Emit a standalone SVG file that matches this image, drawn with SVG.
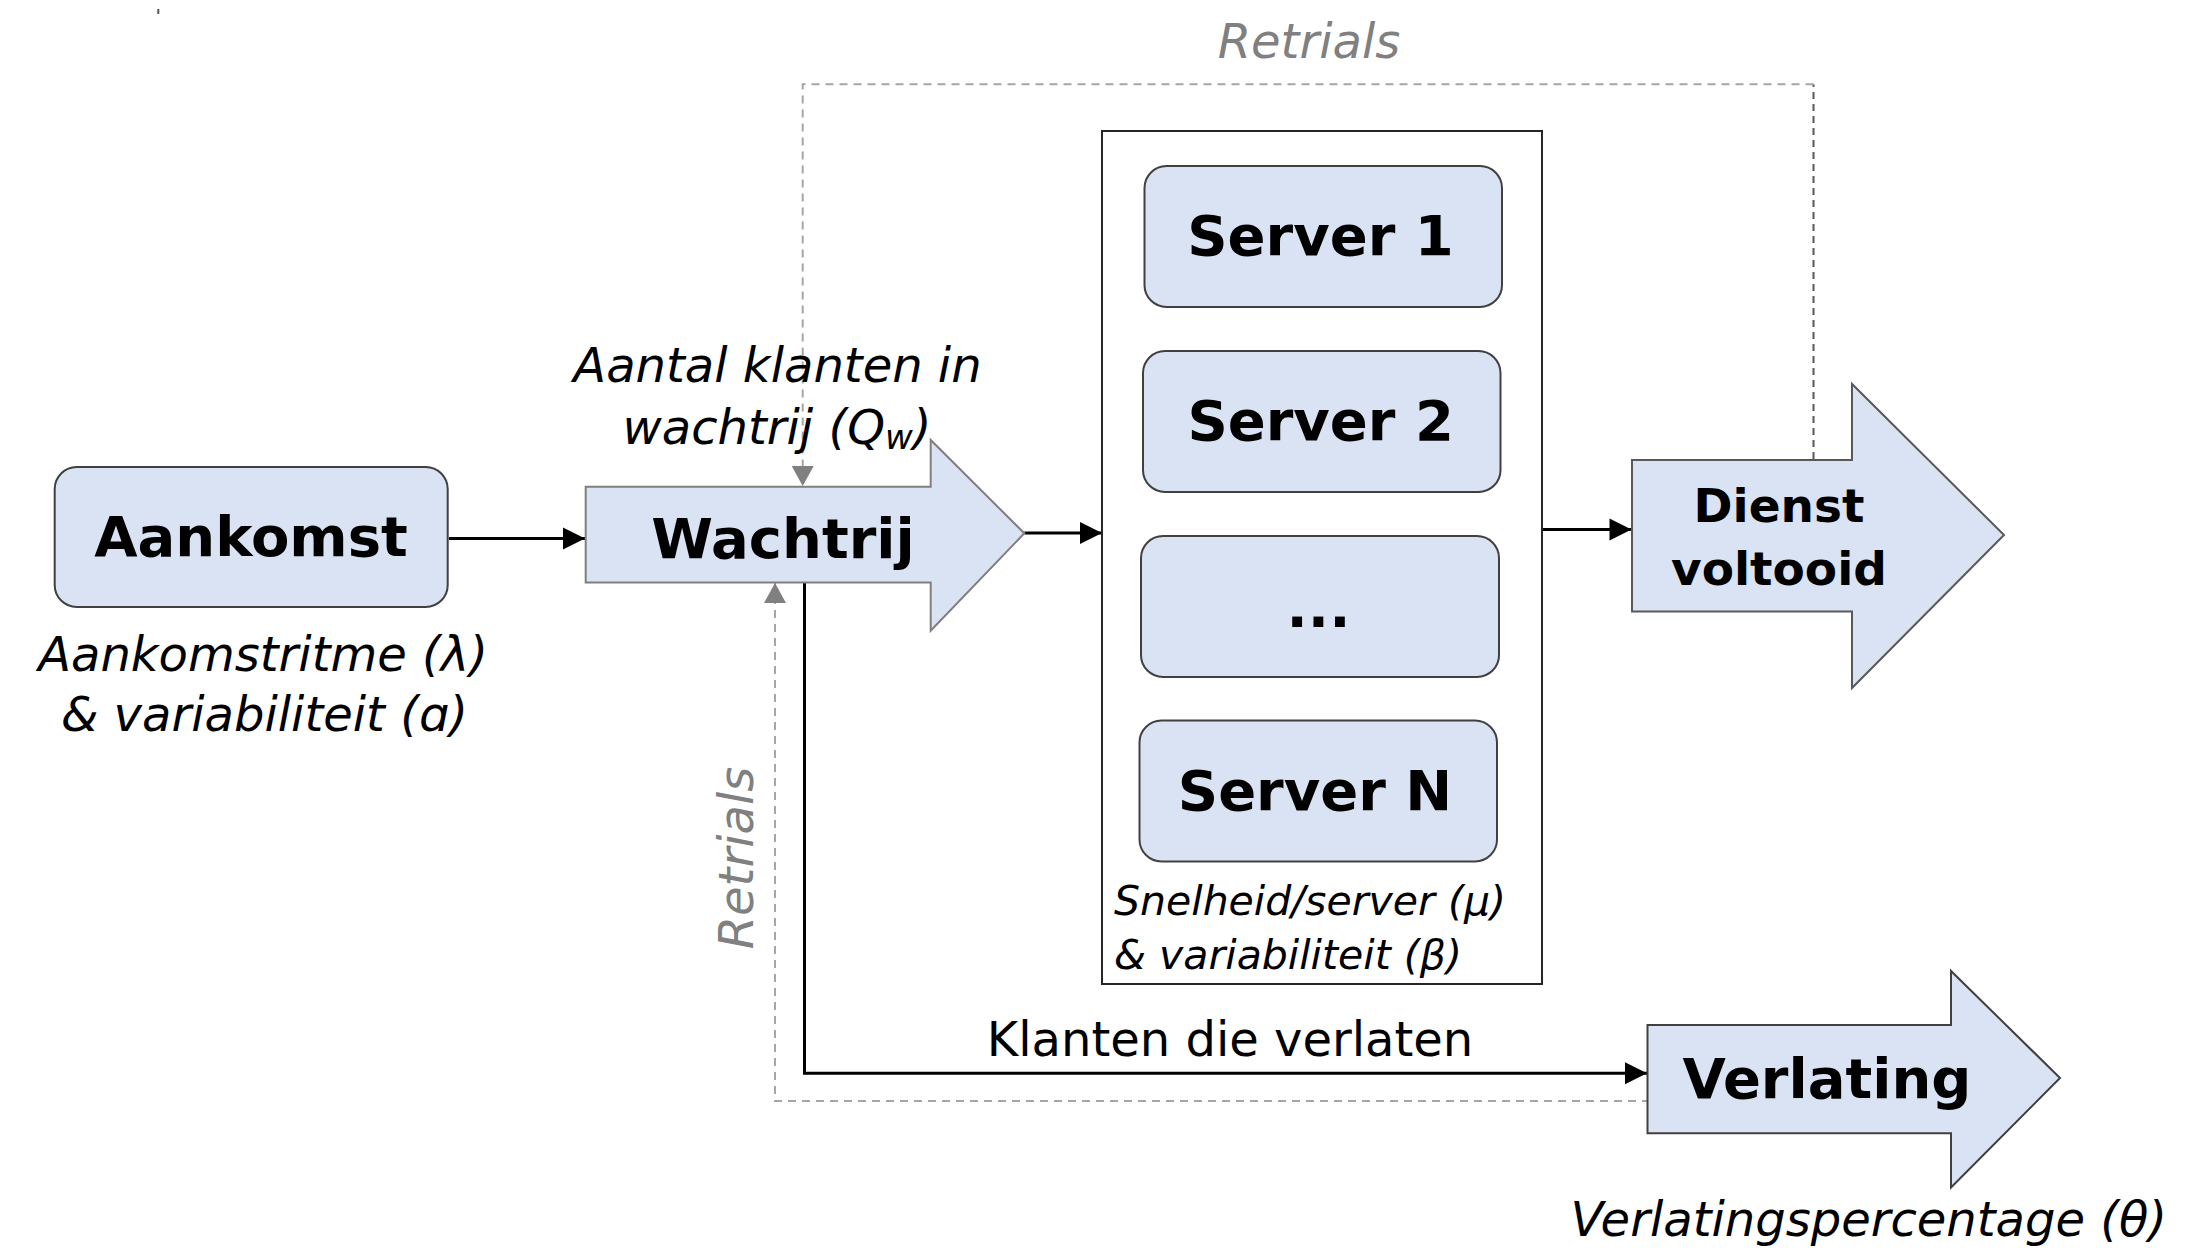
<svg xmlns="http://www.w3.org/2000/svg" width="2193" height="1252" viewBox="0 0 2193 1252">
  <style>
    text { font-family: "DejaVu Sans", Verdana, sans-serif; fill: #000; }
    .title { font-weight: bold; font-size: 56px; text-anchor: middle; }
    .title2 { font-weight: bold; font-size: 47px; text-anchor: middle; }
    .note { font-style: italic; font-size: 48px; }
    .note-s { font-style: italic; font-size: 41px; }
    .gray { fill: #808080; }
    .box { fill: #DAE3F3; stroke: #404040; stroke-width: 2; }
    .flow { fill: none; stroke: #000; stroke-width: 3; }
    .retry { fill: none; stroke: #a6a6a6; stroke-width: 2; stroke-dasharray: 8 6; }
    .retry-dark { fill: none; stroke: #595959; stroke-width: 2; stroke-dasharray: 7 5; }
  </style>
  <defs>
    <marker id="head" markerUnits="userSpaceOnUse" markerWidth="24" markerHeight="24" viewBox="0 0 24 24" refX="23" refY="12" orient="auto">
      <path d="M1,1 L23,12 L1,23 Z" fill="#000"/>
    </marker>
    <marker id="head-gray" markerUnits="userSpaceOnUse" markerWidth="22" markerHeight="24" viewBox="0 0 22 24" refX="21" refY="12" orient="auto">
      <path d="M1,1 L21,12 L1,23 Z" fill="#808080"/>
    </marker>
  </defs>

  <!-- small mark top left -->
  <line x1="158.3" y1="9" x2="158.3" y2="14" stroke="#555" stroke-width="2"/>

  <!-- connectors -->
  <g id="connectors">
    <line class="flow" x1="449" y1="538.5" x2="585" y2="538.5" marker-end="url(#head)"/>
    <line class="flow" x1="1024.3" y1="533" x2="1102" y2="533" marker-end="url(#head)"/>
    <line class="flow" x1="1542" y1="529.5" x2="1631.5" y2="529.5" marker-end="url(#head)"/>
    <path class="flow" d="M804.5,582.5 V1073.3 H1647" marker-end="url(#head)"/>
    <path class="retry-dark" d="M1813.5,459 V84.3"/>
    <path class="retry" d="M1813.5,84.3 H802.7 V486" marker-end="url(#head-gray)"/>
    <path class="retry" d="M1650,1101 H775 V583" marker-end="url(#head-gray)"/>
    <text class="note gray" x="1309" y="58" text-anchor="middle">Retrials</text>
    <text class="note gray" transform="translate(753,858) rotate(-90)" text-anchor="middle">Retrials</text>
    <text x="1230" y="1056" font-size="48" text-anchor="middle">Klanten die verlaten</text>
  </g>

  <!-- arrival -->
  <g id="aankomst">
    <rect class="box" x="54.7" y="467" width="393" height="140" rx="22"/>
    <text class="title" x="251" y="556">Aankomst</text>
    <text class="note" x="263" y="671" text-anchor="middle">Aankomstritme (λ)</text>
    <text class="note" x="264.5" y="731" text-anchor="middle">&amp; variabiliteit (ɑ)</text>
  </g>

  <!-- queue -->
  <g id="wachtrij">
    <path d="M585.7,486.7 H930.7 V440 L1024.3,533.3 L930.7,630.7 V582.5 H585.7 Z" fill="#DAE3F3" stroke="#7f7f7f" stroke-width="2"/>
    <text class="title" x="783" y="558">Wachtrij</text>
    <text class="note" x="777.5" y="382" text-anchor="middle">Aantal klanten in</text>
    <text class="note" x="777" y="444" text-anchor="middle">wachtrij (Q<tspan font-size="34" dy="5">w</tspan><tspan dy="-5">)</tspan></text>
  </g>

  <!-- servers -->
  <g id="servers">
    <rect x="1102" y="131" width="440" height="853" fill="none" stroke="#262626" stroke-width="2"/>
    <text class="note-s" x="1114" y="915">Snelheid/server (μ)</text>
    <text class="note-s" x="1114" y="968.6">&amp; variabiliteit (β)</text>
  </g>
  <g id="server-1">
    <rect class="box" x="1144.5" y="166" width="357.5" height="141" rx="22"/>
    <text class="title" x="1320.5" y="254.5">Server 1</text>
  </g>
  <g id="server-2">
    <rect class="box" x="1143" y="351" width="357.5" height="141" rx="22"/>
    <text class="title" x="1320.7" y="439.7">Server 2</text>
  </g>
  <g id="server-dots">
    <rect class="box" x="1141" y="536" width="358" height="141" rx="22"/>
    <text class="title" x="1318.5" y="627">...</text>
  </g>
  <g id="server-n">
    <rect class="box" x="1139.5" y="720.5" width="357.5" height="141" rx="22"/>
    <text class="title" x="1315" y="809.7">Server N</text>
  </g>

  <!-- service completed -->
  <g id="dienst-voltooid">
    <path d="M1632,460 H1852 V384 L2004,535 L1852,688 V611.5 H1632 Z" fill="#DAE3F3" stroke="#595959" stroke-width="2"/>
    <text class="title2" x="1779" y="522">Dienst</text>
    <text class="title2" x="1779" y="585">voltooid</text>
  </g>

  <!-- abandonment -->
  <g id="verlating">
    <path d="M1647.5,1025 H1951 V971 L2060,1078 L1951,1187.5 V1133.3 H1647.5 Z" fill="#DAE3F3" stroke="#404040" stroke-width="2"/>
    <text class="title" x="1827" y="1098">Verlating</text>
    <text class="note" x="1570.6" y="1236">Verlatingspercentage (θ)</text>
  </g>
</svg>
